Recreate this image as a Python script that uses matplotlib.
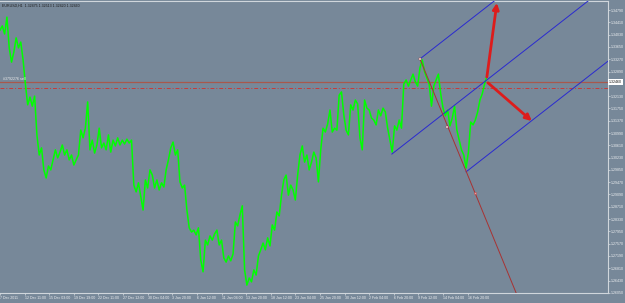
import matplotlib.pyplot as plt

# EURUSD H1, one close every 6 bars
close = [
    1.3417, 1.3430, 1.3405, 1.3457, 1.3362, 1.3318, 1.3349, 1.3393, 1.3362, 1.3380,
    1.3325, 1.3250, 1.3186, 1.3210, 1.3182, 1.3213, 1.3093, 1.3031, 1.3053, 1.2985,
    1.2960, 1.2997, 1.2985, 1.3016, 1.3047, 1.3022, 1.3040, 1.3062, 1.3031, 1.3047,
    1.3016, 1.3031, 1.3000, 1.3016, 1.3031, 1.3108, 1.3084, 1.3114, 1.3195, 1.3047,
    1.3077, 1.3037, 1.3062, 1.3114, 1.3053, 1.3068, 1.3047, 1.3093, 1.3040, 1.3077,
    1.3059, 1.3084, 1.3062, 1.3077, 1.3065, 1.3080, 1.3068, 1.3077, 1.2938, 1.2917,
    1.2945, 1.2904, 1.2861, 1.2954, 1.2929, 1.2985, 1.2969, 1.2929, 1.2954, 1.2923,
    1.2945, 1.2932, 1.2985, 1.3016, 1.3053, 1.3071, 1.3031, 1.3047, 1.2948, 1.2929,
    1.2938, 1.2861, 1.2806, 1.2793, 1.2799, 1.2784, 1.2806, 1.2707, 1.2670, 1.2768,
    1.2753, 1.2781, 1.2768, 1.2787, 1.2799, 1.2753, 1.2768, 1.2713, 1.2700, 1.2719,
    1.2704, 1.2725, 1.2824, 1.2812, 1.2846, 1.2874, 1.2676, 1.2629, 1.2651, 1.2639,
    1.2676, 1.2660, 1.2719, 1.2738, 1.2759, 1.2738, 1.2775, 1.2750, 1.2815, 1.2799,
    1.2855, 1.2843, 1.2907, 1.2954, 1.2969, 1.2907, 1.2938, 1.2923, 1.2892, 1.2969,
    1.3031, 1.3059, 1.3009, 1.3031, 1.2985, 1.3009, 1.3040, 1.3022, 1.2948, 1.3047,
    1.3114, 1.3102, 1.3127, 1.3170, 1.3102, 1.3114, 1.3108, 1.3216, 1.3226, 1.3155,
    1.3108, 1.3093, 1.3186, 1.3170, 1.3201, 1.3189, 1.3084, 1.3047, 1.3201, 1.3176,
    1.3170, 1.3145, 1.3139, 1.3124, 1.3170, 1.3152, 1.3176, 1.3164, 1.3114, 1.3077,
    1.3040, 1.3121, 1.3108, 1.3139, 1.3114, 1.3250, 1.3263, 1.3244, 1.3263, 1.3281,
    1.3257, 1.3244, 1.3300, 1.3325, 1.3288, 1.3269, 1.3250, 1.3182, 1.3244, 1.3263,
    1.3281, 1.3220, 1.3176, 1.3152, 1.3170, 1.3121, 1.3145, 1.3182, 1.3108, 1.3077,
    1.3047, 1.3031, 1.2991, 1.3040, 1.3133, 1.3124, 1.3139, 1.3164, 1.3201, 1.3220,
    1.3250, 1.3275,
]
bars_per_point = 6

date_labels = ["7 Dec 2011", "12 Dec 11:00", "15 Dec 03:00", "19 Dec 19:00",
               "22 Dec 11:00", "27 Dec 12:00", "30 Dec 04:00", "3 Jan 20:00",
               "6 Jan 12:00", "11 Jan 04:00", "13 Jan 20:00", "18 Jan 12:00",
               "23 Jan 04:00", "25 Jan 20:00", "30 Jan 12:00", "2 Feb 04:00",
               "6 Feb 20:00", "9 Feb 12:00", "14 Feb 04:00", "16 Feb 20:00"]
bars_per_label = 64

price_ticks = [1.26050, 1.26430, 1.26810, 1.27190, 1.27570, 1.27950, 1.28330,
               1.28710, 1.29090, 1.29470, 1.29850, 1.30230, 1.30610, 1.30990,
               1.31370, 1.31750, 1.32130, 1.32510, 1.32890, 1.33270, 1.33650,
               1.34030, 1.34410, 1.34790]

header = "EURUSD,H1  1.32475 1.32513 1.32420 1.32460"
last_price = "1.32460"
order_text = "#3792276 sell"

# drawn objects: (bars, prices)
upper_ch = ([1092, 1581], [1.3328, 1.3781])
mid_ch = ([1019, 1581], [1.3034, 1.3555])
low_ch = ([1212, 1581], [1.2979, 1.3321])
red_line = ([1092, 1360], [1.3328, 1.2553])
red_points = ([1092, 1162], [1.3328, 1.3118])
pink_point = (1235, 1.2914)
order_price = 1.3256
stop_price = 1.3237
arrow_up = ((1266, 1.3272), (1292, 1.3501))
arrow_dn = ((1269, 1.3254), (1383, 1.3136))

bg = "#778899"
small = dict(family="Liberation Sans", size=2.6)

fig = plt.figure(figsize=(6.25, 3.03), dpi=100, facecolor=bg)
ax = fig.add_axes([0, 10 / 303, 608 / 625, 292 / 303], facecolor=bg)

x = [i * bars_per_point for i in range(len(close))]
ax.plot(x, close, color="#00ff00", lw=1.1, zorder=3)

# horizontal order / stop lines
ax.axhline(order_price, color="#a8584c", lw=0.9, zorder=2)
ax.axhline(stop_price, color="#c83a3a", lw=0.7, ls=(0, (4, 2, 1, 2)), zorder=2)

# channel
for xs, ys in (upper_ch, mid_ch, low_ch):
    ax.plot(xs, ys, color="#2a2ad0", lw=0.7, zorder=4)
ax.plot(red_line[0], red_line[1], color="#a83232", lw=0.7, zorder=4)
ax.plot(red_points[0], red_points[1], ls="none", marker="s", ms=1.6,
        mfc="white", mec="#a83232", mew=0.3, zorder=5)
ax.plot(*pink_point, marker="s", ms=1.4, mfc="#f0a0a0", mec="#c04040",
        mew=0.3, zorder=5)

# arrows
for (x0, y0), (x1, y1) in (arrow_up, arrow_dn):
    ax.annotate("", xy=(x1, y1), xytext=(x0, y0),
                arrowprops=dict(arrowstyle="-|>", color="#dd1c1c", lw=2.0,
                                mutation_scale=9, shrinkA=0, shrinkB=0),
                zorder=6)

ax.text(0.004, 0.992, header, transform=ax.transAxes, color="#1a1a1a",
        va="top", ha="left", **small)
ax.text(8, order_price + 0.0003, order_text, color="#eeeeee",
        va="bottom", ha="left", **small)

# axes
ax.set_xlim(0, 1581)
ax.set_ylim(1.26046, 1.35069)
ax.yaxis.tick_right()
ax.set_yticks(price_ticks)
# the tick under the last-price box is hidden, as in the terminal
ylabels = ["" if abs(p - order_price) < 0.002 else f"{p:.5f}" for p in price_ticks]
ax.set_yticklabels(ylabels, **small)
ax.set_xticks([i * bars_per_label for i in range(len(date_labels))])
ax.set_xticklabels(date_labels, ha="left", **small)
ax.tick_params(axis="both", colors="#d8dde3", labelcolor="#eef0f2",
               length=1.5, width=0.5, pad=0.6)
ax.spines["left"].set_visible(False)
for s in ("right", "bottom", "top"):
    ax.spines[s].set_color("#d0d6dc")
    ax.spines[s].set_linewidth(0.8)

ax.text(1.002, order_price, last_price, transform=ax.get_yaxis_transform(),
        color="#111111", va="center", ha="left", clip_on=False,
        bbox=dict(boxstyle="square,pad=0.2", fc="white", ec="white", lw=0),
        zorder=10, **small)

fig.savefig("out.png", dpi=100, facecolor=bg)
